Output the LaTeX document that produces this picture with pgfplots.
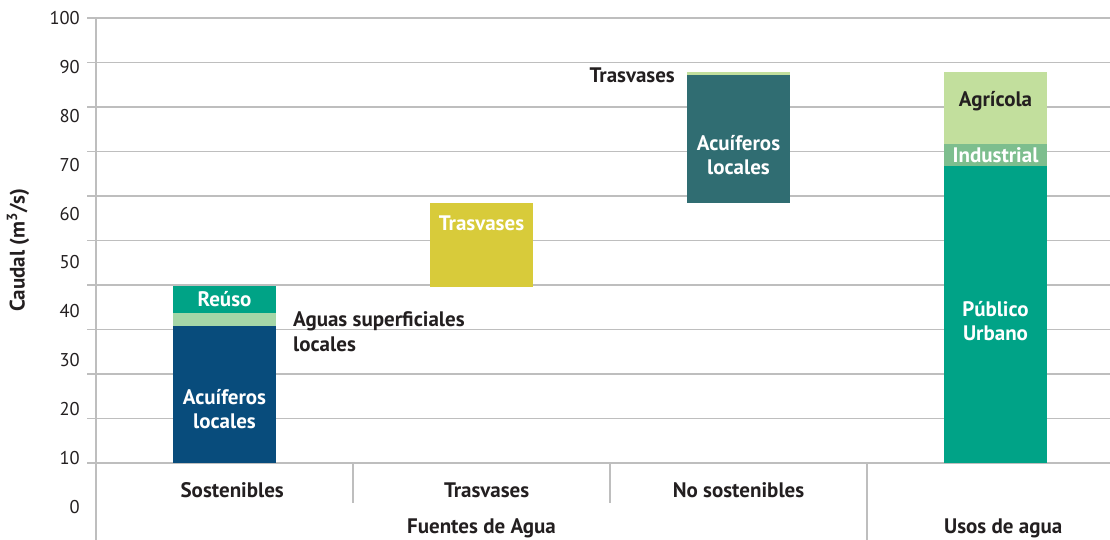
\documentclass[border=0pt]{standalone}
\usepackage{fontspec}
\setmainfont{PT Sans}
\usepackage{pgfplots}
\pgfplotsset{compat=1.18}
\definecolor{txt}{RGB}{35,31,32}
\definecolor{gridc}{RGB}{190,190,190}
\definecolor{cAcuS}{RGB}{8,76,124}
\definecolor{cSup}{RGB}{165,214,167}
\definecolor{cReu}{RGB}{0,163,134}
\definecolor{cTra}{RGB}{216,203,58}
\definecolor{cAcuN}{RGB}{48,109,114}
\definecolor{cTop}{RGB}{194,223,157}
\definecolor{cUrb}{RGB}{0,163,135}
\definecolor{cInd}{RGB}{125,190,142}
\definecolor{cAgr}{RGB}{194,223,157}
\begin{document}
\begin{tikzpicture}[x=1pt,y=1pt,
  lbl/.style={font=\fontsize{21}{24.5}\selectfont\bfseries, align=center, inner sep=0pt},
  tlbl/.style={font=\fontsize{18.5}{21}\selectfont, inner sep=0pt}]
\useasboundingbox (0,0) rectangle (1110,540);
\begin{axis}[
  at={(96pt,77pt)}, anchor=south west,
  scale only axis, width=1014pt, height=445pt,
  xmin=-0.5, xmax=3.4455, ymin=0, ymax=100,
  ytick={0,10,...,100}, yticklabels={},
  xtick=\empty,
  ymajorgrids, grid style={line width=1.3pt, gridc},
  major tick length=9pt, tick align=outside, ytick pos=left,
  tick style={line width=1.3pt, gridc},
  axis line style={draw=none},
  ybar stacked, bar width=103pt,
  clip=false,
  every axis plot/.append style={draw=none},
]
\addplot[fill=none] coordinates {(0,0) (1,39.6) (2,58.5) (3,0)};
\addplot[fill=cAcuS] coordinates {(0,30.8) (1,0) (2,0) (3,0)};
\addplot[fill=cSup] coordinates {(0,2.95) (1,0) (2,0) (3,0)};
\addplot[fill=cReu] coordinates {(0,6.1) (1,0) (2,0) (3,0)};
\addplot[fill=cTra] coordinates {(0,0) (1,18.9) (2,0) (3,0)};
\addplot[fill=cAcuN] coordinates {(0,0) (1,0) (2,28.7) (3,0)};
\addplot[fill=cTop] coordinates {(0,0) (1,0) (2,0.65) (3,0)};
\addplot[fill=cUrb] coordinates {(0,0) (1,0) (2,0) (3,66.7)};
\addplot[fill=cInd] coordinates {(0,0) (1,0) (2,0) (3,5.0)};
\addplot[fill=cAgr] coordinates {(0,0) (1,0) (2,0) (3,16.2)};

% y tick labels (offset from gridlines as in the original)
\pgfplotsinvokeforeach{0,10,20,30,40,50,60,70,80,90,100}{
  \node[tlbl, anchor=east, text=txt] at ([xshift=-16pt]axis cs:-0.5,{1.0989*#1-9.888}) {#1};
}
% axis and separators
\draw[gridc, line width=1.3pt] (axis cs:-0.5,100) -- ([yshift=-77pt]axis cs:-0.5,0);
\draw[gridc, line width=1.3pt] (axis cs:0.5,0) -- ([yshift=-40pt]axis cs:0.5,0);
\draw[gridc, line width=1.3pt] (axis cs:1.5,0) -- ([yshift=-40pt]axis cs:1.5,0);
\draw[gridc, line width=1.3pt] (axis cs:2.5,0) -- ([yshift=-77pt]axis cs:2.5,0);
% anchor points for labels
\coordinate (cS) at ([yshift=-27pt]axis cs:0.03,0);
\coordinate (cT) at ([yshift=-27pt]axis cs:1.02,0);
\coordinate (cN) at ([yshift=-27pt]axis cs:2,0);
\coordinate (gF) at ([yshift=-65pt]axis cs:1,0);
\coordinate (gU) at ([yshift=-65pt]axis cs:3.03,0);
\coordinate (lReu) at (axis cs:0,36.8);
\coordinate (lAcuS) at (axis cs:0,12.1);
\coordinate (lSup) at (axis cs:0.2665,29.5);
\coordinate (lTra) at (axis cs:1,53.9);
\coordinate (lTraN) at (axis cs:1.753,87.2);
\coordinate (lAcuN) at (axis cs:2,69.2);
\coordinate (lAgr) at (axis cs:3,81.2);
\coordinate (lInd) at (axis cs:3,69.2);
\coordinate (lUrb) at (axis cs:3,31.9);
\end{axis}
% category labels
\node[lbl, text=txt] at (cS) {Sostenibles};
\node[lbl, text=txt] at (cT) {Trasvases};
\node[lbl, text=txt] at (cN) {No sostenibles};
\node[lbl, text=txt] at (gF) {Fuentes de Agua};
\node[lbl, text=txt] at (gU) {Usos de agua};
% bar labels
\node[lbl, text=white] at (lReu) {Reúso};
\node[lbl, text=white] at (lAcuS) {Acuíferos\\locales};
\node[lbl, text=txt, anchor=west, align=left] at (lSup) {Aguas superficiales\\locales};
\node[lbl, text=white] at (lTra) {Trasvases};
\node[lbl, text=txt, anchor=east] at (lTraN) {Trasvases};
\node[lbl, text=white] at (lAcuN) {Acuíferos\\locales};
\node[lbl, text=txt] at (lAgr) {Agrícola};
\node[lbl, text=white] at (lInd) {Industrial};
\node[lbl, text=white] at (lUrb) {Público\\Urbano};
\node[lbl, text=txt, rotate=90] at (18,290) {Caudal (m\textsuperscript{3}/s)};
\end{tikzpicture}
\end{document}
